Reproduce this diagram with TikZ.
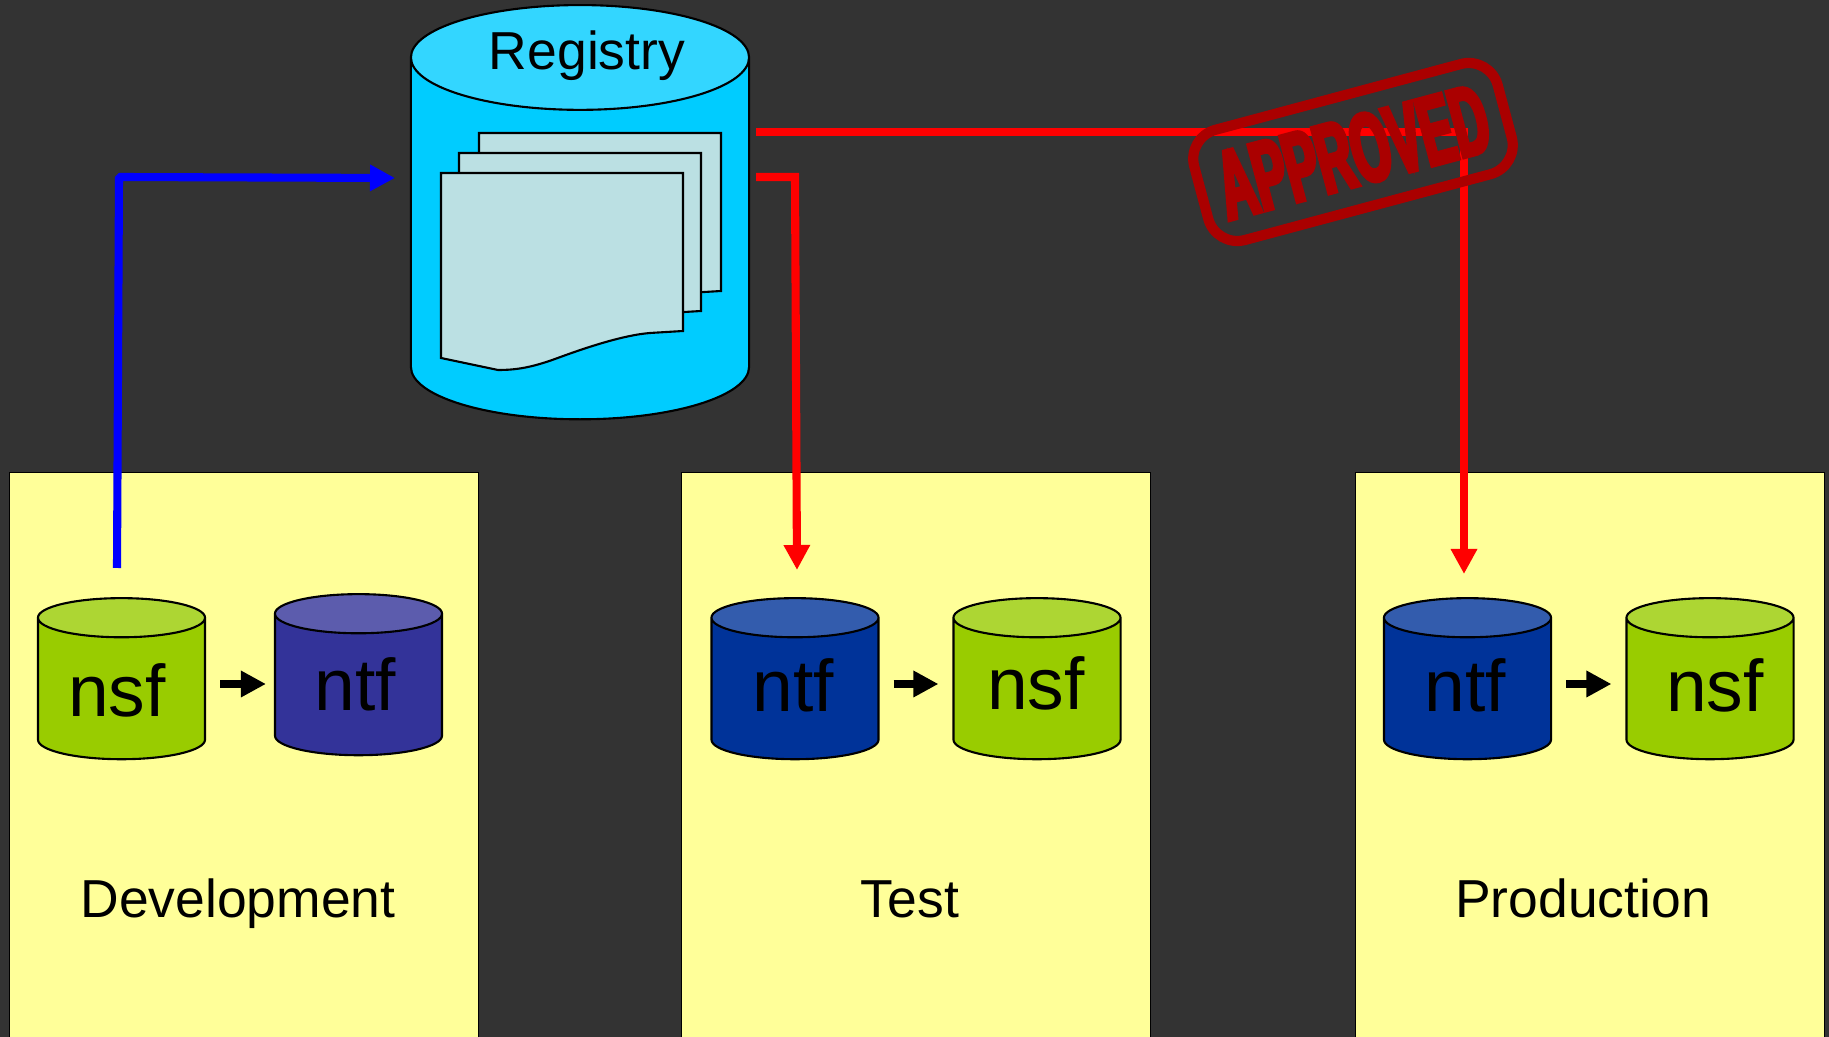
\documentclass[tikz,border=0pt]{standalone}
\usepackage{fontspec}
\setmainfont{Liberation Sans}
\newfontfamily\stampfont[FakeStretch=0.5,FakeBold=4]{Liberation Sans Bold}
\usepackage{tikz}
\usetikzlibrary{calc,shapes.geometric,arrows.meta,positioning}

\definecolor{slate}{HTML}{333333}
\definecolor{panelyellow}{HTML}{FFFF99}
\definecolor{nsfbody}{HTML}{99CC00}
\definecolor{nsftop}{HTML}{ADD633}
\definecolor{ntfbody}{HTML}{003399}
\definecolor{ntftop}{HTML}{335CAD}
\definecolor{devbody}{HTML}{333399}
\definecolor{devtop}{HTML}{5C5CAD}
\definecolor{regbody}{HTML}{00CCFF}
\definecolor{regtop}{HTML}{33D6FF}
\definecolor{pagefill}{HTML}{BBE0E3}
\definecolor{stampred}{HTML}{AA0000}

\begin{document}
\begin{tikzpicture}[
  x=0.01cm, y=-0.01cm,
  panel/.style={rectangle, draw=black, line width=0.3pt, fill=panelyellow, anchor=north west, minimum width=4.69cm, minimum height=5.7cm, inner sep=0pt},
  db/.style={cylinder, shape border rotate=90, draw=black, line width=0.6pt, shape aspect=1.67, minimum width=1.67cm, minimum height=1.61cm, outer sep=0pt, cylinder uses custom fill},
  nsfdb/.style={db, cylinder body fill=nsfbody, cylinder end fill=nsftop},
  ntfdb/.style={db, cylinder body fill=ntfbody, cylinder end fill=ntftop},
  devdb/.style={db, cylinder body fill=devbody, cylinder end fill=devtop},
  dbtext/.style={anchor=base, font=\fontsize{20.8}{21}\selectfont, inner sep=0pt},
  title/.style={anchor=base, font=\fontsize{15.2}{15.2}\selectfont, inner sep=0pt},
  docpage/.style={draw=black, line width=0.6pt, fill=pagefill},
  flow/.style={line width=2.3pt, -{Triangle[length=2.5mm,width=2.5mm]}},
  convert/.style={flow, black}
]
  \clip (0,0) rectangle (1829,1037);
  \fill[slate] (0,0) rectangle (1829,1037);

  \node[panel] (dev) at (9,472) {};
  \node[panel] (test) at (681,472) {};
  \node[panel] (prod) at (1354.5,472) {};

  % registry and its pages
  \node[db, shape aspect=4.47, minimum width=3.38cm, minimum height=4.14cm, cylinder body fill=regbody, cylinder end fill=regtop] (registry) at (580,248.5) {};
  \node[title] (registrytext) at (587,70) {Registry};
  \foreach \dx/\dy in {38/-40,18/-20,0/0}
    \draw[docpage, shift={(\dx,\dy)}] (441,173) -- (683,173) -- (683,331) -- (650,333)
      .. controls (625,335) and (590,346) .. (555,359)
      .. controls (530,368) and (515,370) .. (498,370) -- (441,358) -- cycle;

  % development
  \node[nsfdb] (devnsf) at (121.5,694) {};
  \node[devdb] (devntf) at (358.5,690) {};
  \node[dbtext] (devnsftext) at (117,717) {nsf};
  \node[dbtext] (devntftext) at (355,711) {ntf};
  \node[title] (devtext) at (238,918) {Development};

  % test
  \node[ntfdb] (testntf) at (795,694) {};
  \node[nsfdb] (testnsf) at (1037,694) {};
  \node[dbtext] (testntftext) at (793,712) {ntf};
  \node[dbtext] (testnsftext) at (1036,710) {nsf};
  \node[title] (testtext) at (910,918) {Test};

  % production
  \node[ntfdb] (prodntf) at (1467.5,694) {};
  \node[nsfdb] (prodnsf) at (1710,694) {};
  \node[dbtext] (prodntftext) at (1465,712) {ntf};
  \node[dbtext] (prodnsftext) at (1715,712) {nsf};
  \node[title] (prodtext) at (1583,918) {Production};

  \coordinate (devout) at (117,568);
  \coordinate (devbend) at (119,177);
  \coordinate (regin) at (395,178);
  \coordinate (regoutA) at (756,177);
  \coordinate (regbend) at (795,177);
  \coordinate (testin) at (797,570);
  \coordinate (regoutB) at (756,132);
  \coordinate (prodin) at (1464,574);

  \draw[flow, blue, line join=bevel] (devout) -- (devbend) -- (regin);
  \draw[flow, red] (regoutA) -- (regbend) -- (testin);
  \draw[flow, red] (regoutB) -| (prodin);

  \draw[convert] ($(devnsf.east)+(15,-10)$) -- ($(devntf.west)+(-9,-6)$);
  \draw[convert] ($(testntf.east)+(15,-10)$) -- ($(testnsf.west)+(-15,-10)$);
  \draw[convert] ($(prodntf.east)+(15,-10)$) -- ($(prodnsf.west)+(-15,-10)$);

  % stamp
  \node[rectangle, rounded corners=0.3cm, draw=stampred, line width=2.9pt, rotate=15, minimum width=3.14cm, minimum height=1.14cm, inner sep=0pt, text=stampred, font=\stampfont\fontsize{28}{28}\selectfont] (approved) at (1353,152) {APPROVED};
\end{tikzpicture}
\end{document}
